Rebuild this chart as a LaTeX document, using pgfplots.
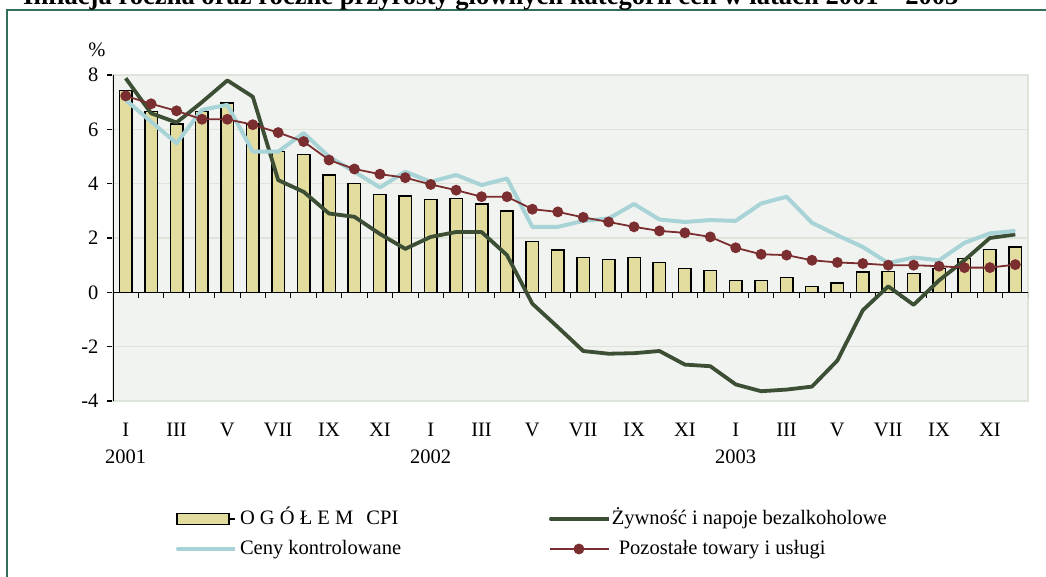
\documentclass[border=0pt]{standalone}
\usepackage{fontspec}
\setmainfont{Liberation Serif}
\usepackage{pgfplots}
\usepackage{pgfplotstable}
\pgfplotsset{compat=1.18}

\definecolor{framec}{HTML}{336E58}
\definecolor{plotbg}{HTML}{F1F3F0}
\definecolor{gridc}{HTML}{DDE5DA}
\definecolor{barfill}{HTML}{E3DC9F}
\definecolor{foodc}{HTML}{3C4E33}
\definecolor{ctrlc}{HTML}{A8D3D7}
\definecolor{otherc}{HTML}{7A2E2F}

% miesiace 2001-2003 (0 = I 2001)
\pgfplotstableread{
i  cpi   food   ctrl  other
0  7.43  7.88   7.08  7.23
1  6.65  6.59   6.28  6.94
2  6.20  6.25   5.49  6.68
3  6.65  7.00   6.72  6.37
4  6.96  7.80   6.90  6.37
5  6.20  7.20   5.18  6.17
6  5.18  4.13   5.18  5.88
7  5.08  3.70   5.86  5.55
8  4.32  2.90   4.99  4.87
9  4.00  2.78   4.44  4.54
10 3.60  2.15   3.86  4.35
11 3.55  1.60   4.44  4.22
12 3.41  2.04   4.07  3.97
13 3.46  2.22   4.32  3.76
14 3.25  2.22   3.95  3.52
15 3.00  1.37   4.19  3.52
16 1.87  -0.42  2.41  3.06
17 1.55  -1.28  2.41  2.96
18 1.28  -2.16  2.63  2.76
19 1.20  -2.26  2.72  2.59
20 1.28  -2.24  3.25  2.41
21 1.10  -2.16  2.68  2.26
22 0.87  -2.66  2.59  2.19
23 0.81  -2.72  2.66  2.04
24 0.44  -3.39  2.63  1.64
25 0.44  -3.64  3.27  1.40
26 0.54  -3.58  3.52  1.37
27 0.22  -3.47  2.56  1.18
28 0.34  -2.51  2.10  1.10
29 0.75  -0.66  1.67  1.06
30 0.77  0.22   1.08  1.00
31 0.69  -0.46  1.28  1.00
32 0.87  0.44   1.18  0.96
33 1.24  1.18   1.82  0.91
34 1.58  2.00   2.17  0.91
35 1.67  2.13   2.26  1.02
}\inflacja

\begin{document}
\begin{tikzpicture}
\useasboundingbox (0,0) rectangle (1046pt,577pt);
\draw[framec, line width=2pt] (6.7pt,-5pt) -- (6.7pt,567pt) -- (1055pt,567pt);
\node[anchor=base west, inner sep=0pt, font=\bfseries\fontsize{26.6}{30}\selectfont]
  at (23pt,572pt) {Inflacja roczna oraz roczne przyrosty głównych kategorii cen w latach 2001 – 2003};
\node[anchor=base, inner sep=0pt, font=\fontsize{20.5}{24}\selectfont] at (97pt,520pt) {\%};

\begin{axis}[
  at={(113pt,176pt)}, anchor=south west,
  scale only axis, width=915pt, height=326pt,
  xmin=-0.5, xmax=35.5, ymin=-4, ymax=8,
  ytick={-4,-2,...,8}, yticklabels={-4,-2,0,2,4,6,8},
  xtick={0,2,...,34},
  xticklabels={{I\\2001},III,V,VII,IX,XI,{I\\2002},III,V,VII,IX,XI,{I\\2003},III,V,VII,IX,XI},
  xtick pos=bottom, ytick pos=left,
  tick align=outside, major tick length=6pt,
  xtick style={draw=none},
  ytick style={black, line width=1.2pt},
  tick label style={font=\fontsize{20.5}{26.7}\selectfont},
  x tick label style={align=center, yshift=-13pt},
  y tick label style={xshift=-5pt},
  ymajorgrids, grid style={gridc, line width=1.5pt},
  axis line style={draw=gridc, line width=1.5pt},
  axis background/.style={fill=plotbg},
  legend columns=2, legend cell align=left,
  legend style={at={(axis description cs:0.0678,-0.3282)}, anchor=north west,
    draw=none, fill=none, inner sep=0pt, outer sep=0pt,
    row sep=8pt, column sep=0pt,
    font=\fontsize{20.5}{24}\selectfont,
    nodes={inner sep=0pt, text height=17pt, text depth=5pt}},
]
\draw[black, line width=1.2pt] (axis cs:-0.5,0) -- (axis cs:35.5,0);
\pgfplotsinvokeforeach{0,...,36}{
  \draw[black, line width=1pt] (axis cs:{#1-0.5},0) -- ([yshift=-6pt]axis cs:{#1-0.5},0);
}

\addplot[ybar, bar width=12.5pt, bar shift=0pt, fill=barfill, draw=black, line width=1.5pt,
  legend image code/.code={\path (0pt,0pt) -- (58pt,0pt);
    \draw[fill=barfill, draw=black, line width=1.5pt] (0pt,-5.5pt) rectangle (52pt,5.5pt);}]
  table[x=i, y=cpi] {\inflacja};
\addlegendentry{\makebox[311pt][l]{\hspace{3pt}O G Ó Ł E M\hspace{8pt} CPI}}

\addplot[foodc, line width=3.8pt, line join=round, no marks,
  legend image code/.code={\path (0pt,0pt) -- (59pt,0pt);
    \draw[foodc, line width=3.8pt, line cap=round] (1pt,0pt) -- (55pt,0pt);}]
  table[x=i, y=food] {\inflacja};
\addlegendentry{\hspace{1pt}Żywność i napoje bezalkoholowe}

\addplot[ctrlc, line width=4pt, line join=round, no marks,
  legend image code/.code={\path (0pt,0pt) -- (58pt,0pt);
    \draw[ctrlc, line width=4pt, line cap=round] (1pt,0pt) -- (53pt,0pt);}]
  table[x=i, y=ctrl] {\inflacja};
\addlegendentry{\makebox[311pt][l]{\hspace{3pt}Ceny kontrolowane}}

\addplot[otherc, line width=1.8pt, mark=*, mark size=4.5pt, mark options={fill=otherc, draw=otherc},
  legend image code/.code={\path (0pt,0pt) -- (59pt,0pt);
    \draw[otherc, line width=1.8pt] (2pt,0pt) -- (54pt,0pt);
    \fill[otherc] (29pt,0pt) circle (4.5pt);}]
  table[x=i, y=other] {\inflacja};
\addlegendentry{\hspace{8pt}Pozostałe towary i usługi}

\draw[black, line width=1.2pt] (axis cs:-0.5,-4) -- (axis cs:-0.5,8);
\end{axis}
\end{tikzpicture}
\end{document}
